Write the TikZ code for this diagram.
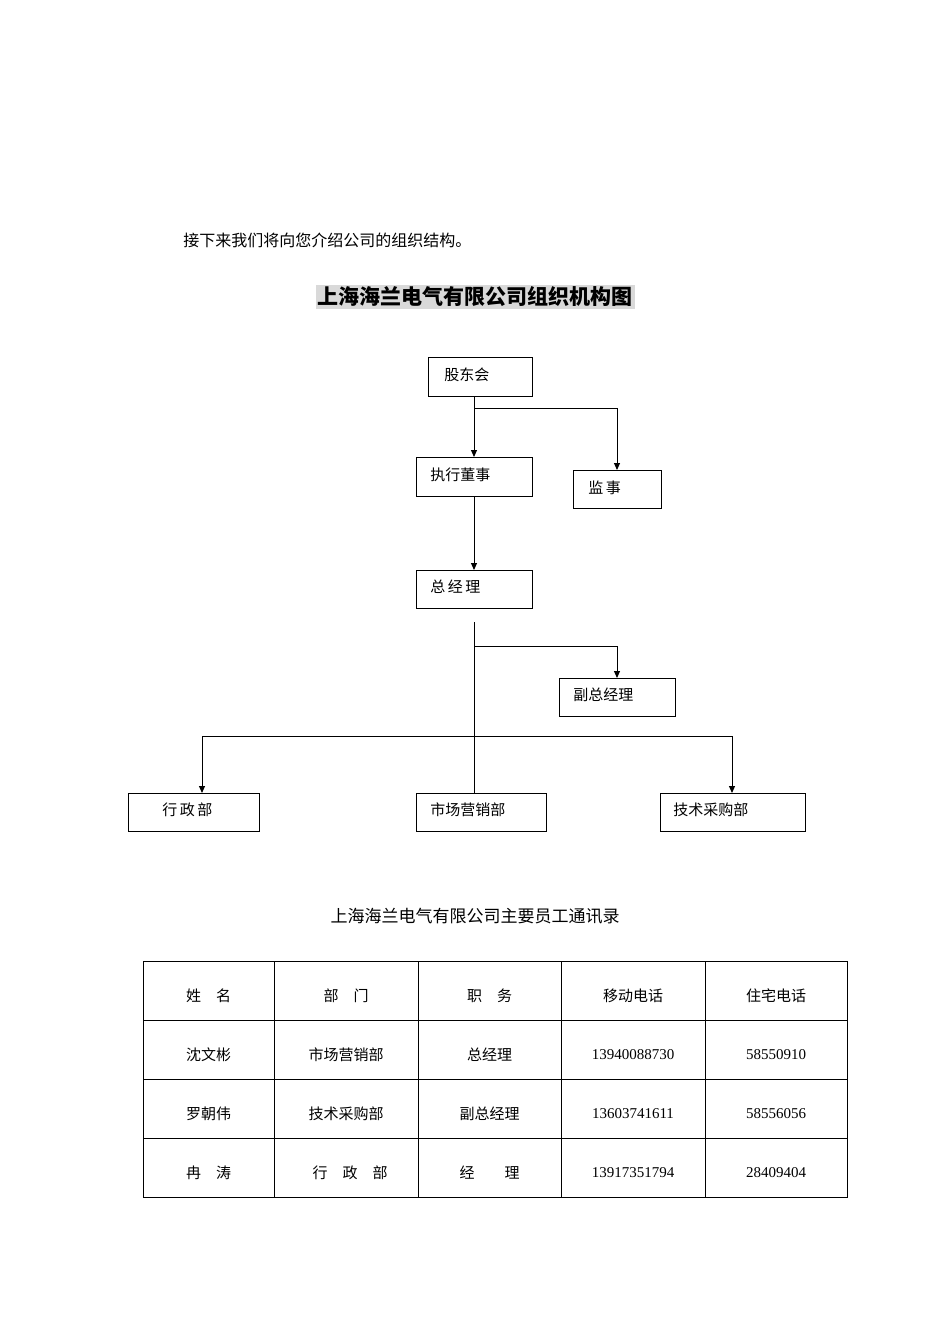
\documentclass[tikz,border=0pt]{standalone}
\usepackage{fontspec}
\setmainfont{Liberation Serif}
\newfontfamily\cjk{Noto Sans CJK SC}
\usetikzlibrary{arrows.meta}

\begin{document}
\begin{tikzpicture}[x=1pt, y=-1pt, >={Triangle[length=7pt,width=6pt]}, thick, inner sep=0pt,
	box/.style={draw=black, line width=0.9pt, anchor=north west, font=\cjk\fontsize{15}{15}\selectfont},
	cell/.style={font=\cjk\fontsize{15}{15}\selectfont},
	num/.style={font=\fontsize{15}{15}\selectfont}]

	\useasboundingbox (0,0) rectangle (950,1344);

	\node[anchor=west, font=\cjk\fontsize{16}{16}\selectfont](intro) at (183,240) {接下来我们将向您介绍公司的组织结构。};
	\node[fill=black!15, inner sep=2pt, font=\cjk\bfseries\fontsize{21}{21}\selectfont](title) at (475,297) {上海海兰电气有限公司组织机构图};

	% Kaesten
	\node[box, minimum width=104pt, minimum height=39pt](gdh) at (428,357) {};
	\node[box, minimum width=116pt, minimum height=39pt](zxds) at (416,457) {};
	\node[box, minimum width=88pt, minimum height=38pt](js) at (573,470) {};
	\node[box, minimum width=116pt, minimum height=38pt](zjl) at (416,570) {};
	\node[box, minimum width=116pt, minimum height=38pt](fzjl) at (559,678) {};
	\node[box, minimum width=131pt, minimum height=38pt](xzb) at (128,793) {};
	\node[box, minimum width=130pt, minimum height=38pt](scb) at (416,793) {};
	\node[box, minimum width=145pt, minimum height=38pt](jsb) at (660,793) {};

	\node[cell, anchor=west](GDH) at (444,375) {股东会};
	\node[cell, anchor=west](ZXDS) at (430,475) {执行董事};
	\node[cell, anchor=west](JS) at (588,488) {监\,事};
	\node[cell, anchor=west](ZJL) at (430,587) {总\,经\,理};
	\node[cell, anchor=west](FZJL) at (573,695) {副总经理};
	\node[cell, anchor=west](XZB) at (162,810) {行\,政\,部};
	\node[cell, anchor=west](SCB) at (430,810) {市场营销部};
	\node[cell, anchor=west](JSB) at (673,810) {技术采购部};

	\coordinate (s1) at (474,408);
	\coordinate (s2) at (474,622);
	\coordinate (s3) at (474,646);
	\coordinate (s4) at (474,736);

	% Verbindungen
	\draw[->, line width=1pt] (474,396) -- (474,457);
	\draw[->, line width=1pt] (s1) -| (617,470);
	\draw[->, line width=1pt] (474,496) -- (474,570);
	\draw[-, line width=1pt] (s2) -- (474,793);
	\draw[->, line width=1pt] (s3) -| (617,678);
	\draw[->, line width=1pt] (s4) -| (202,793);
	\draw[->, line width=1pt] (s4) -| (732,793);

	% Tabelle
	\node[font=\cjk\fontsize{17}{17}\selectfont](ttitle) at (475,916) {上海海兰电气有限公司主要员工通讯录};
	\draw[line width=0.8pt] (143,961) rectangle (847,1197);
	\foreach \x in {274,418,561,705} \draw[line width=0.8pt] (\x,961) -- (\x,1197);
	\foreach \y in {1020,1079,1138} \draw[line width=0.8pt] (143,\y) -- (847,\y);

	\foreach \t [count=\i] in {姓\quad 名,部\quad 门,职\quad 务,移动电话,住宅电话}
		\node[cell](h\i) at ({\ifcase\i\or208.5\or346\or489.5\or633\or776\fi},996) {\t};
	\node[cell](r11) at (208.5,1055) {沈文彬};
	\node[cell](r12) at (346,1055) {市场营销部};
	\node[cell](r13) at (489.5,1055) {总经理};
	\node[num](r14) at (633,1055) {13940088730};
	\node[num](r15) at (776,1055) {58550910};
	\node[cell](r21) at (208.5,1114) {罗朝伟};
	\node[cell](r22) at (346,1114) {技术采购部};
	\node[cell](r23) at (489.5,1114) {副总经理};
	\node[num](r24) at (633,1114) {13603741611};
	\node[num](r25) at (776,1114) {58556056};
	\node[cell](r31) at (208.5,1173) {冉\quad 涛};
	\node[cell](r32) at (350,1173) {行\quad 政\quad 部};
	\node[cell](r33) at (489.5,1173) {经\qquad 理};
	\node[num](r34) at (633,1173) {13917351794};
	\node[num](r35) at (776,1173) {28409404};

\end{tikzpicture}
\end{document}
